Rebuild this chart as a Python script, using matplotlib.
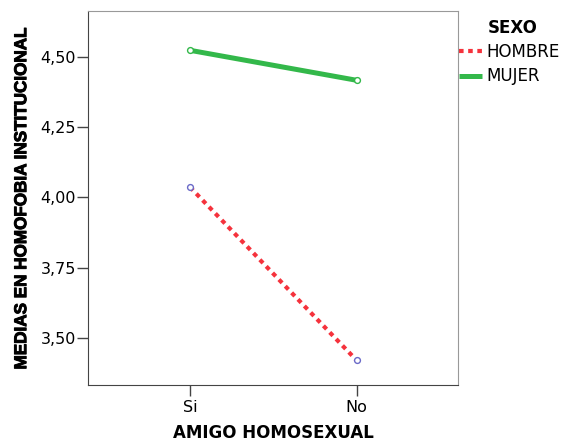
import matplotlib
matplotlib.use('Agg')
import matplotlib.pyplot as plt
import matplotlib.patheffects as pe

plt.rcParams['font.family'] = ['DejaVu Sans']

categorias = ['Si', 'No']
hombre = [4.037, 3.419]
mujer = [4.525, 4.418]

fig = plt.figure(figsize=(5.71, 4.42), dpi=100)
ax = fig.add_axes([0.1546, 0.129, 0.648, 0.846])

x = range(len(categorias))

ax.plot(x, hombre, color='#f5323c', lw=3.0, dashes=(1.1, 1.1),
        marker='o', ms=4.2, mfc='white', mec='#6a6ac8', mew=1.0, label='HOMBRE')
ax.plot(x, mujer, color='#33b84a', lw=3.6, solid_capstyle='butt',
        marker='o', ms=4.2, mfc='white', mec='#33b84a', mew=1.0, label='MUJER')

ax.set_xlim(-0.61, 1.61)
ax.set_ylim(3.331, 4.665)
ax.set_xticks(list(x))
ax.set_xticklabels(categorias)
ax.set_yticks([3.50, 3.75, 4.00, 4.25, 4.50])
ax.set_yticklabels(['3,50', '3,75', '4,00', '4,25', '4,50'])
ax.tick_params(axis='both', labelsize=11.5, length=8, width=1.0, color='#444444')
ax.tick_params(axis='y', pad=1)
ax.tick_params(axis='x', pad=3)

for s in ['left', 'bottom']:
    ax.spines[s].set_color('#444444')
for s in ['top', 'right']:
    ax.spines[s].set_color('#999999')

ax.set_xlabel('AMIGO HOMOSEXUAL', fontsize=12, fontweight='bold', labelpad=6.5)
ylab = ax.set_ylabel('MEDIAS EN HOMOFOBIA INSTITUCIONAL', fontsize=12.3, fontweight='bold',
                     labelpad=8, family='Liberation Sans')
ylab.set_path_effects([pe.withStroke(linewidth=0.7, foreground='black')])

# legend outside, to the right
fig.text(488 / 571, 1 - 28 / 442, 'SEXO', fontsize=12, fontweight='bold', va='center', ha='left')
ax.legend(loc='upper left', bbox_to_anchor=(1.003, 1 - 32 / 374), frameon=False,
          fontsize=12, handlelength=1.35, handletextpad=0.25, labelspacing=0.38,
          borderaxespad=0.0, borderpad=0.0)
for h in ax.get_legend().get_lines():
    h.set_marker('')

fig.savefig('out.png', dpi=100)
